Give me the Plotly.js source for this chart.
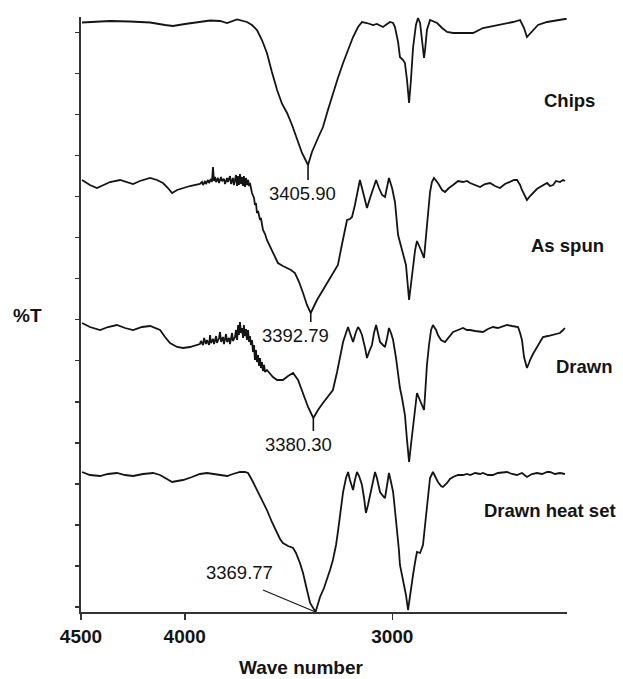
<!DOCTYPE html>
<html>
<head>
<meta charset="utf-8">
<script src="https://cdn.plot.ly/plotly-3.0.1.min.js"></script>
<style>
  html, body { margin: 0; padding: 0; background: #ffffff; }
  #chart { width: 623px; height: 679px; }
</style>
</head>
<body>
<div id="chart"></div>
<script>
// FTIR spectra, [wavenumber (cm-1), %T offset for stacking]
const chips = [[4495,117.9],[4433,118.1],[4360,118.2],[4264,118.1],[4167,117.9],[4095,117.4],[4057,117.2],[3999,117.6],[3927,118],[3878,118.3],[3830,118.2],[3796,117.8],[3748,118.5],[3700,118],[3676,117.4],[3652,116.4],[3628,114.4],[3604,111.8],[3580,108],[3555,104.4],[3531,101.6],[3507,99.8],[3483,97.4],[3459,94.4],[3435,91.8],[3405.90,89.4],[3387,92],[3358,94.8],[3334,97],[3310,100.4],[3286,103.8],[3262,106.8],[3237,109.8],[3213,112.4],[3189,115],[3165,117],[3146,118],[3122,117.8],[3093,117.4],[3074,117.6],[3045,117],[3025,117.6],[3011,118],[2996,117.8],[2987,117],[2972,114],[2963,111],[2948,110.4],[2939,109.8],[2929,106.4],[2919,101.8],[2910,106.4],[2900,112.8],[2886,117.4],[2876,118.8],[2866,117.8],[2862,116.4],[2852,112.4],[2847,110.8],[2842,112.4],[2833,116.4],[2818,118.4],[2804,118.2],[2784,117.8],[2760,116.8],[2736,116],[2707,115.8],[2674,115.8],[2611,115.8],[2563,116.8],[2481,117.4],[2418,118],[2384,118.4],[2365,116.8],[2351,115],[2327,116],[2298,117.4],[2254,118],[2206,118.4],[2168,118.6],[2160,118.6]];

const asSpun = [[4495,86.4],[4457,85.4],[4423,84.8],[4389,85.4],[4360,86],[4312,86.4],[4278,86],[4249,85.6],[4216,86.2],[4167,86.8],[4134,86.4],[4105,85.8],[4081,84.8],[4061,83.8],[4037,84.4],[4008,84.8],[3975,85.2],[3927,85.6],[3917,86],[3912,85.4],[3902,86.2],[3898,85.6],[3888,86.4],[3883,85.8],[3874,86.6],[3869,86],[3864,89],[3859,86.2],[3854,87],[3849,86],[3840,86.8],[3835,85.8],[3825,87],[3821,86.2],[3811,86.6],[3806,85.6],[3796,86.8],[3792,86],[3782,87.2],[3777,85.6],[3768,86.8],[3763,85.4],[3753,87.4],[3748,85.2],[3743,87.2],[3739,85.4],[3734,87.6],[3729,85.6],[3724,87],[3719,85.2],[3715,87.2],[3710,85],[3705,86.8],[3700,85.4],[3695,86.4],[3690,85.2],[3686,85.8],[3676,83.8],[3666,82.8],[3662,81.4],[3657,81.8],[3652,79.8],[3647,80.2],[3637,78.4],[3633,78.8],[3623,76.4],[3613,75.6],[3604,74.4],[3589,73],[3570,71.2],[3551,69.8],[3527,69.2],[3507,68.8],[3488,68.4],[3469,67.8],[3449,66],[3430,63.8],[3411,61.4],[3392.79,59.8],[3363,62.4],[3334,64.4],[3310,66],[3286,67.8],[3262,69.4],[3242,73.6],[3218,78.4],[3204,78.6],[3194,79],[3180,81.4],[3170,83.4],[3156,86.4],[3141,84],[3122,80.8],[3107,82.8],[3098,84],[3078,86.4],[3064,84.8],[3049,83.4],[3035,83],[3016,86.8],[3001,84.8],[2987,82],[2972,75.4],[2958,73.2],[2948,72],[2934,69.4],[2919,62.4],[2910,65.8],[2900,69.4],[2890,72.4],[2881,74.2],[2871,73.4],[2862,72.4],[2847,70.8],[2842,73.4],[2833,77.4],[2818,84],[2809,86],[2799,86.8],[2780,85.8],[2760,84.4],[2746,84],[2727,84.8],[2707,85.4],[2683,86.2],[2659,86],[2640,86.2],[2625,85.8],[2601,85.4],[2577,85],[2553,85.6],[2529,85.8],[2505,85.2],[2481,84.8],[2457,85.6],[2433,86],[2413,86.4],[2399,86.4],[2384,85.4],[2375,84.4],[2360,83],[2351,82.4],[2336,83.2],[2322,83.8],[2303,84.6],[2288,85],[2274,85.4],[2254,85.8],[2240,85.2],[2225,85.4],[2211,86.2],[2192,86],[2177,86.4],[2168,86.2]];

const drawn = [[4495,57.8],[4457,57],[4408,56.4],[4370,57],[4327,57.4],[4288,56.8],[4249,56.4],[4206,57],[4167,57.2],[4143,56.8],[4119,56.4],[4095,55],[4071,53.8],[4037,53],[4008,52.8],[3975,53],[3941,53.4],[3927,53.6],[3922,54.2],[3912,53.4],[3907,54.8],[3898,53.6],[3893,54.4],[3883,53.4],[3878,55.4],[3874,53.8],[3864,54.6],[3859,53.6],[3849,55.2],[3845,53.8],[3835,54.8],[3830,56],[3825,54],[3816,55],[3811,53.6],[3801,55.6],[3796,54],[3787,54.8],[3782,53.6],[3772,55.8],[3768,54.2],[3758,55],[3753,56.4],[3748,54.4],[3743,57.4],[3739,55.4],[3734,58],[3729,55.8],[3724,56.8],[3719,54.8],[3715,57.4],[3710,55.2],[3705,56.6],[3700,54.4],[3695,56.4],[3690,54],[3686,55.2],[3681,53.4],[3676,54.4],[3671,52],[3666,53.4],[3662,50.4],[3657,52.4],[3652,50],[3647,51.4],[3642,49.2],[3637,50.8],[3633,48.8],[3628,50],[3623,48.2],[3618,49.4],[3613,48],[3604,48.4],[3589,47.6],[3575,47],[3555,46.4],[3527,46.4],[3502,47.2],[3478,47.8],[3454,46.4],[3430,43.8],[3406,41],[3380.30,38.8],[3358,40.4],[3334,41.8],[3310,43],[3286,44.4],[3266,48],[3252,50.8],[3237,54],[3223,55.8],[3213,57],[3204,55.8],[3189,54],[3175,56],[3165,57],[3156,56.4],[3146,55.4],[3131,52.8],[3122,50.8],[3112,52],[3098,53.4],[3088,55.8],[3078,57.4],[3069,55.8],[3059,54],[3045,53.4],[3035,53],[3025,54.8],[3016,56.8],[3006,55.8],[2996,54.4],[2982,50.8],[2972,47.4],[2963,44.8],[2953,42.8],[2943,40.8],[2939,39.4],[2929,34.4],[2919,30],[2910,33.4],[2900,37.4],[2890,41.4],[2881,43.8],[2871,42.8],[2857,41.4],[2847,40.4],[2842,43.4],[2833,49.4],[2823,53.4],[2813,56.4],[2804,57.4],[2789,56.4],[2780,55.4],[2765,54.4],[2746,54],[2727,55],[2707,56],[2683,56.4],[2659,56.8],[2640,56.4],[2625,56.4],[2601,56.2],[2577,56],[2563,56],[2539,56.6],[2515,57],[2491,56.8],[2466,57.2],[2447,57.4],[2423,57.2],[2394,57],[2384,55.8],[2375,54.4],[2365,51],[2356,49.2],[2351,48.8],[2341,49.8],[2336,50.4],[2322,51.6],[2303,53],[2288,54.2],[2274,55],[2250,55.2],[2225,55.4],[2211,55.6],[2192,55.8],[2177,56.4],[2168,56.8]];

const drawnHeatSet = [[4495,28],[4457,27.4],[4408,27.2],[4370,27.6],[4327,27.8],[4288,27.4],[4249,27.2],[4201,27.6],[4153,27.8],[4119,27.4],[4086,26.6],[4061,26],[4037,26.2],[4008,26.4],[3965,27],[3927,27.6],[3893,27.8],[3854,27.6],[3821,27.4],[3796,27.2],[3768,27.6],[3734,28],[3710,28],[3695,27.8],[3676,26.4],[3652,24.4],[3628,22.4],[3604,20.4],[3580,18],[3555,15.8],[3541,14.6],[3527,13.8],[3502,13.2],[3478,12.8],[3464,11.8],[3445,9.8],[3430,7.8],[3411,4.4],[3396,1.8],[3369.77,0],[3358,1.6],[3348,3],[3329,4.8],[3315,6.4],[3300,8.4],[3286,10.4],[3271,13.4],[3262,16],[3252,19.4],[3237,24],[3223,26.8],[3213,28],[3204,26.4],[3189,24.4],[3180,26.4],[3170,28],[3160,27.2],[3146,25.4],[3136,22.8],[3127,19.8],[3117,21.4],[3107,23.4],[3093,26.4],[3083,28],[3074,26.8],[3059,24],[3045,23.2],[3035,22.8],[3025,25.4],[3016,27.8],[3006,26],[2996,24],[2987,20.4],[2977,16.8],[2968,12.4],[2963,9.4],[2953,7.2],[2943,5.8],[2934,3.4],[2924,0.4],[2915,3.4],[2900,7.4],[2890,10],[2881,12],[2866,11.8],[2857,12.8],[2852,13.4],[2842,17.4],[2833,21.4],[2823,24.8],[2818,26.8],[2804,28],[2794,27.2],[2780,26],[2765,25.2],[2756,25],[2736,25.8],[2722,26.6],[2707,27],[2683,27.4],[2659,27.4],[2640,27.6],[2625,27.4],[2601,27.8],[2577,27.6],[2563,27.8],[2539,27.4],[2515,27.4],[2491,27.8],[2466,28],[2447,28],[2423,27.6],[2399,27.4],[2375,27.8],[2351,27],[2327,27.6],[2303,27.8],[2278,27.6],[2254,28],[2240,28],[2216,27.6],[2192,27.8],[2168,27.6]];

const seriesNames = ['Chips', 'As spun', 'Drawn', 'Drawn heat set'];
const spectra = [chips, asSpun, drawn, drawnHeatSet];

// O-H band minimum of each spectrum
const peakWavenumbers = [3405.90, 3392.79, 3380.30, 3369.77];

const xTickValues = [4500, 4000, 3000];

// ---- presentation ----
const FONT = 'Liberation Sans, Arial, Helvetica, sans-serif';
const INK = '#141414';

// where each spectrum's name sits (paper coords, right of the plot)
const namePos = [[1.006, 0.8605], [1.002, 0.6168], [1.037, 0.4118], [0.965, 0.1714]];
// where each peak number sits, and how the marker line runs from the minimum
const peakLabelPos = [[3435, 83.8], [3464, 55.4], [3450, 33.6], [3734, 8]];
const peakTick = [
  { kind: 'stem', drop: 3 },
  { kind: 'stem', drop: 1.8 },
  { kind: 'stem', drop: 2.6 },
  { kind: 'leader', to: [3623, 4.4] }
];

const traces = spectra.map((s, i) => ({
  type: 'scatter',
  mode: 'lines',
  name: seriesNames[i],
  x: s.map(p => p[0]),
  y: s.map(p => p[1]),
  line: { color: INK, width: 1.8 },
  hoverinfo: 'skip',
  showlegend: false
}));

const shapes = [];
const annotations = [];

peakWavenumbers.forEach((wn, i) => {
  const pt = spectra[i].find(p => p[0] === wn);
  const t = pt ? pt[1] : 0;
  const tick = peakTick[i];
  if (tick.kind === 'stem') {
    shapes.push({ type: 'line', xref: 'x', yref: 'y', x0: wn, x1: wn, y0: t, y1: t - tick.drop,
                  line: { color: INK, width: 1.6 } });
  } else {
    shapes.push({ type: 'line', xref: 'x', yref: 'y', x0: tick.to[0], y0: tick.to[1], x1: wn, y1: t,
                  line: { color: INK, width: 1.1 } });
  }
  annotations.push({
    xref: 'x', yref: 'y', x: peakLabelPos[i][0], y: peakLabelPos[i][1],
    text: wn.toFixed(2), showarrow: false, xanchor: 'center', yanchor: 'middle',
    font: { family: FONT, size: 18.5, color: INK }
  });
});

seriesNames.forEach((name, i) => {
  annotations.push({
    xref: 'paper', yref: 'paper', x: namePos[i][0], y: namePos[i][1],
    text: '<b>' + name + '</b>', showarrow: false, xanchor: 'center', yanchor: 'middle',
    font: { family: FONT, size: 18.5, color: INK }
  });
});

// axis titles
annotations.push({
  xref: 'paper', yref: 'paper', x: 0.4527, y: -0.094, xanchor: 'center', yanchor: 'middle',
  text: '<b>Wave number</b>', showarrow: false, font: { family: FONT, size: 19, color: INK }
});
annotations.push({
  xref: 'paper', yref: 'paper', x: -0.111, y: 0.499, xanchor: 'center', yanchor: 'middle',
  text: '<b>%T</b>', showarrow: false, font: { family: FONT, size: 19, color: INK }
});

const layout = {
  width: 623,
  height: 679,
  margin: { l: 81, r: 56, t: 17, b: 67 },
  paper_bgcolor: '#ffffff',
  plot_bgcolor: '#ffffff',
  showlegend: false,
  xaxis: {
    range: [4500, 2158],
    tickvals: xTickValues,
    ticktext: xTickValues.map(v => '<b>' + v + '</b>'),
    ticks: 'outside', ticklen: 6, tickwidth: 1.5, tickcolor: '#333',
    tickfont: { family: FONT, size: 19, color: INK },
    showline: true, linecolor: '#333', linewidth: 2,
    showgrid: false, zeroline: false
  },
  yaxis: {
    range: [0, 119],
    tick0: 1, dtick: 8.21,
    ticks: 'outside', ticklen: 4, tickwidth: 1.5, tickcolor: '#333',
    showticklabels: false,
    showline: true, linecolor: '#333', linewidth: 2,
    showgrid: false, zeroline: false
  },
  shapes: shapes,
  annotations: annotations
};

Plotly.newPlot('chart', traces, layout, { staticPlot: true, displayModeBar: false });
</script>
</body>
</html>
